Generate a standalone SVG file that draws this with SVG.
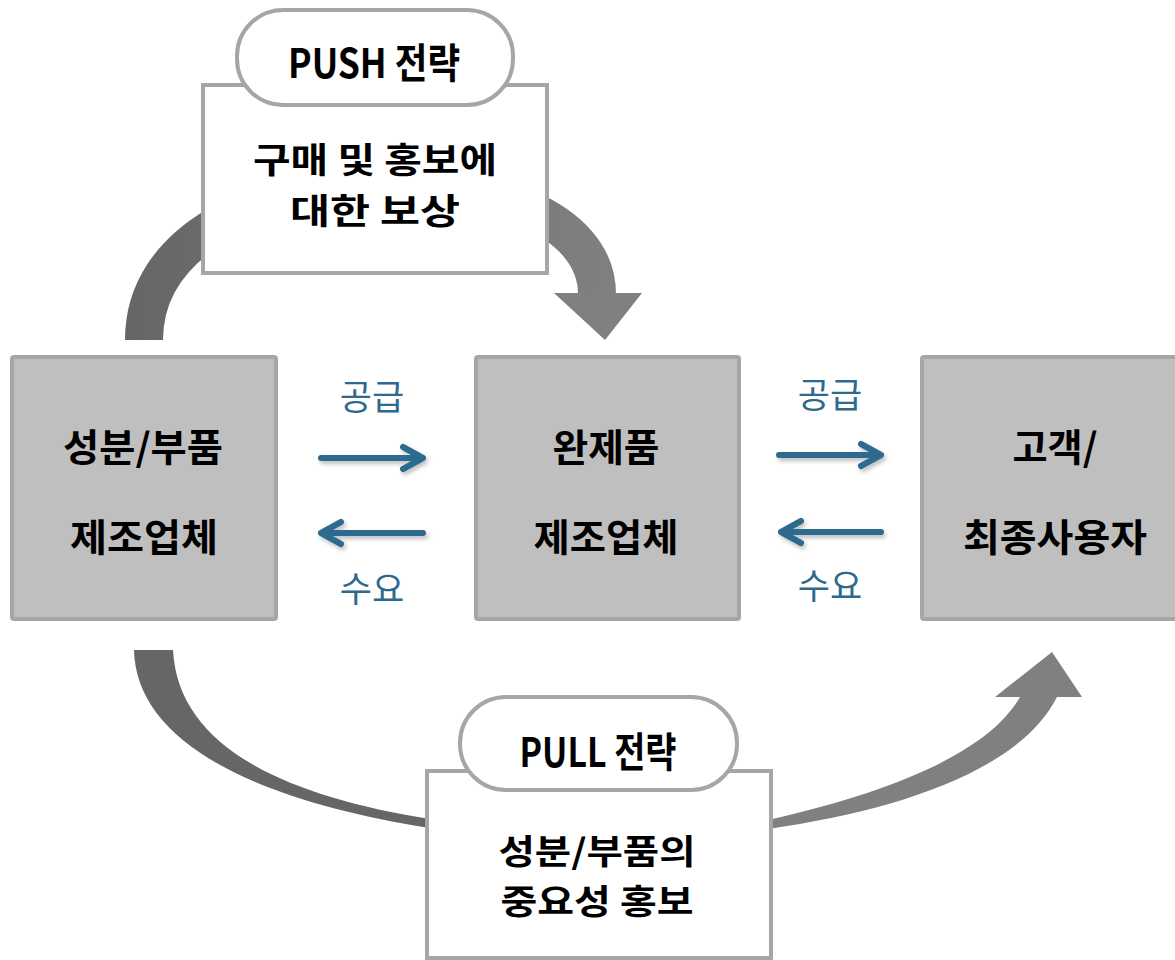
<svg xmlns="http://www.w3.org/2000/svg" width="1175" height="960" viewBox="0 0 1175 960">
<defs>
<style>
.gbox{fill:#bfbfbf;stroke:#a6a6a6;stroke-width:4}
.wbox{fill:#ffffff;stroke:#a6a6a6;stroke-width:4}
.t{font-family:'Noto Sans CJK KR','Noto Sans',sans-serif;font-weight:700;fill:#000;text-anchor:middle}
.b{font-family:'Noto Sans CJK KR','Noto Sans',sans-serif;font-weight:400;fill:#2f6a8e;text-anchor:middle;font-size:35px}
.arr{fill:none;stroke:#2f6a8e;stroke-width:6;stroke-linecap:round;stroke-linejoin:round;filter:url(#sh)}
</style>
<filter id="sh" x="-20%" y="-50%" width="140%" height="200%">
<feDropShadow dx="2" dy="3" stdDeviation="2" flood-color="#000" flood-opacity="0.25"/>
</filter>
<linearGradient id="gTop" gradientUnits="userSpaceOnUse" x1="125" y1="0" x2="640" y2="0">
<stop offset="0" stop-color="#666666"/>
<stop offset="1" stop-color="#818181"/>
</linearGradient>
</defs>

<g id="connectors">
<path d="M144,340 C144,140 597,140 597,294" fill="none" stroke="url(#gTop)" stroke-width="38"/>
<polygon points="554,293 642,293 605,340" fill="#808080"/>
<path d="M134,650 C136,740 250,800 430,828 L430,819 C280,795 178,745 173,650 Z" fill="#666666"/>
<path d="M768,829 C900,810 1020,770 1057,697 L1020,697 C990,750 900,790 768,820 Z" fill="#808080"/>
<polygon points="995,697 1052,652 1082,697" fill="#808080"/>
<path class="arr" d="M321,458 H421 M403,447 L423,458 L403,469"/>
<path class="arr" d="M423,533 H323 M341,522 L321,533 L341,544"/>
<path class="arr" d="M779,455 H879 M861,444 L881,455 L861,466"/>
<path class="arr" d="M881,532 H783 M801,521 L781,532 L801,543"/>
<text class="b" x="372" y="410">공급</text>
<text class="b" x="372" y="602">수요</text>
<text class="b" x="830" y="408">공급</text>
<text class="b" x="830" y="599">수요</text>
</g>

<g id="push-box">
<rect class="wbox" x="203" y="85" width="344" height="188"/>
<text class="t" x="375" y="173" font-size="35" textLength="244" lengthAdjust="spacingAndGlyphs">구매 및 홍보에</text>
<text class="t" x="375" y="224" font-size="35" textLength="170" lengthAdjust="spacingAndGlyphs">대한 보상</text>
</g>
<g id="push-label">
<rect class="wbox" x="237" y="10" width="276" height="95" rx="46"/>
<text class="t" x="374" y="78" font-size="41" textLength="172" lengthAdjust="spacingAndGlyphs">PUSH 전략</text>
</g>

<g id="pull-box">
<rect class="wbox" x="427" y="771" width="344" height="187"/>
<text class="t" x="597" y="864" font-size="34" textLength="197" lengthAdjust="spacingAndGlyphs">성분/부품의</text>
<text class="t" x="597" y="914" font-size="34" textLength="193" lengthAdjust="spacingAndGlyphs">중요성 홍보</text>
</g>
<g id="pull-label">
<rect class="wbox" x="460" y="697" width="277" height="93" rx="46"/>
<text class="t" x="598" y="767" font-size="41" textLength="157" lengthAdjust="spacingAndGlyphs">PULL 전략</text>
</g>

<g id="node-parts">
<rect class="gbox" x="12" y="357" width="264" height="262" rx="2"/>
<text class="t" x="143" y="461" font-size="38" textLength="160" lengthAdjust="spacingAndGlyphs">성분/부품</text>
<text class="t" x="144" y="551" font-size="38" textLength="148" lengthAdjust="spacingAndGlyphs">제조업체</text>
</g>
<g id="node-product">
<rect class="gbox" x="476" y="357" width="263" height="262" rx="2"/>
<text class="t" x="606" y="461" font-size="38" textLength="107" lengthAdjust="spacingAndGlyphs">완제품</text>
<text class="t" x="606" y="551" font-size="38" textLength="145" lengthAdjust="spacingAndGlyphs">제조업체</text>
</g>
<g id="node-customer">
<rect class="gbox" x="922" y="357" width="262" height="262" rx="2"/>
<text class="t" x="1055" y="461" font-size="38" textLength="85" lengthAdjust="spacingAndGlyphs">고객/</text>
<text class="t" x="1055" y="551" font-size="38" textLength="184" lengthAdjust="spacingAndGlyphs">최종사용자</text>
</g>
</svg>
